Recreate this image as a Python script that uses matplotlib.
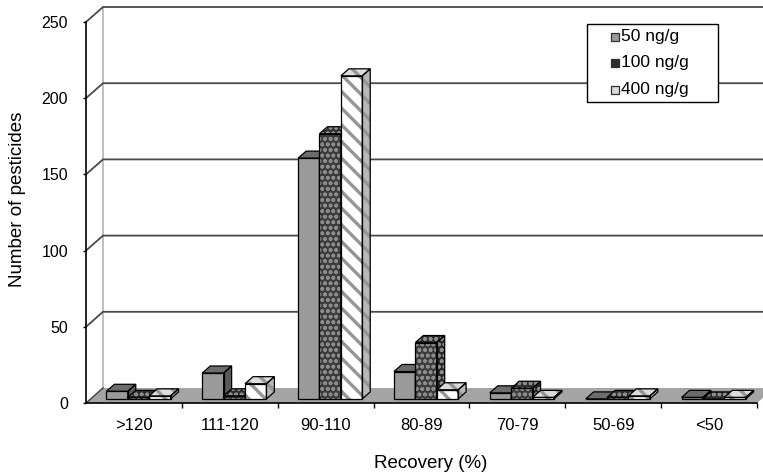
import matplotlib
matplotlib.use("Agg")
import matplotlib.pyplot as plt
from matplotlib.patches import Polygon, Rectangle

plt.rcParams["font.family"] = ["Liberation Sans", "DejaVu Sans"]
plt.rcParams["hatch.linewidth"] = 2.2

# ---- data -------------------------------------------------------------
categories = [">120", "111-120", "90-110", "80-89", "70-79", "50-69", "<50"]
series_labels = ["50 ng/g", "100 ng/g", "400 ng/g"]
counts_50 = [5, 17, 158, 18, 4, 0, 1]
counts_100 = [1, 2, 174, 37, 7, 1, 0]
counts_400 = [2, 10, 212, 6, 1, 2, 1]
y_ticks = [0, 50, 100, 150, 200, 250]

series = [counts_50, counts_100, counts_400]

# ---- figure / axes ----------------------------------------------------
W, H = 763, 472
fig = plt.figure(figsize=(W / 100, H / 100), dpi=100)
fig.patch.set_facecolor("white")
ax = fig.add_axes([86 / W, 69 / H, 671 / W, 381 / H])
ncat = len(categories)
ymax = y_ticks[-1]
ax.set_xlim(0, ncat)
ax.set_ylim(0, ymax)
ax.set_facecolor("none")

# oblique depth vector (data units) for the pseudo-3D box
px_x = 671 / ncat          # pixels per category
px_y = 381 / ymax          # pixels per count
DX = 17 / px_x
DY = 15 / px_y

# back wall, left edge and top edge
ax.add_patch(Polygon([(DX, DY), (DX, ymax + DY), (ncat + DX, ymax + DY), (ncat + DX, DY)],
                     closed=True, fc="white", ec="none", zorder=0, clip_on=False))
ax.plot([DX, DX], [DY, ymax + DY], color="#b4b4b4", lw=1.2, zorder=1, clip_on=False)

# gridlines on the back wall plus their diagonals on the left side wall
for t in y_ticks[1:]:
    ax.plot([0, DX, ncat + DX], [t, t + DY, t + DY], color="#4a4a4a", lw=1.3,
            zorder=1, clip_on=False, solid_joinstyle="miter")

# floor
ax.add_patch(Polygon([(0, 0), (ncat, 0), (ncat + DX, DY), (DX, DY)], closed=True,
                     fc="#a4a4a4", ec="none", zorder=1.5, clip_on=False))
ax.plot([0, DX], [0, DY], color="#404040", lw=1.0, zorder=1.6, clip_on=False)

# ---- bars -------------------------------------------------------------
styles = [
    dict(front="#9a9a9a", top="#6c6c6c", side="#5a5a5a", hatch=None, hcolor="#9a9a9a", hlw=1.0),
    dict(front="#3c3c3c", top="#2e2e2e", side="#262626", hatch="ooo", hcolor="#8c8c8c", hlw=1.1),
    dict(front="#ffffff", top="#dcdcdc", side="#b8b8b8", hatch="\\\\", hcolor="#959595", hlw=2.4),
]
z0, z1 = 0.27, 0.74
bw = 0.223
gap = 0.165
ddx = (z1 - z0) * DX
ddy = (z1 - z0) * DY
base = z0 * DY


def set_hlw(artists, lw):
    for a in artists:
        if hasattr(a, "set_hatch_linewidth"):
            a.set_hatch_linewidth(lw)


for j, (vals, st) in enumerate(zip(series, styles)):
    zo = 3 + j
    lefts = [i + gap + j * bw + z0 * DX for i in range(ncat)]
    with plt.rc_context({"hatch.linewidth": st["hlw"]}):
        # front faces
        fronts = ax.bar(lefts, vals, width=bw, bottom=base, align="edge", color=st["front"],
                        hatch=st["hatch"], edgecolor=st["hcolor"], linewidth=0, zorder=zo)
        set_hlw(fronts, st["hlw"])
        ax.bar(lefts, vals, width=bw, bottom=base, align="edge", fill=False,
               edgecolor="black", linewidth=0.9, zorder=zo + 0.3)
        for xl, v in zip(lefts, vals):
            xr = xl + bw
            top = base + v
            side = [(xr, base), (xr, top), (xr + ddx, top + ddy), (xr + ddx, base + ddy)]
            lid = [(xl, top), (xr, top), (xr + ddx, top + ddy), (xl + ddx, top + ddy)]
            for poly, fc in ((side, st["side"]), (lid, st["top"])):
                p = Polygon(poly, closed=True, fc=fc, hatch=st["hatch"],
                            ec=st["hcolor"], lw=0, zorder=zo + 0.1)
                set_hlw([p], st["hlw"])
                ax.add_patch(p)
                ax.add_patch(Polygon(poly, closed=True, fill=False, ec="black",
                                     lw=0.9, zorder=zo + 0.2, joinstyle="miter"))

# ---- axes decoration --------------------------------------------------
for s in ("top", "right"):
    ax.spines[s].set_visible(False)
ax.spines["left"].set_color("black")
ax.spines["left"].set_linewidth(1.2)
ax.spines["bottom"].set_color("black")
ax.spines["bottom"].set_linewidth(1.2)
ax.spines["left"].set_zorder(10)
ax.spines["bottom"].set_zorder(10)

ax.set_yticks(y_ticks)
ax.set_yticklabels([str(t) for t in y_ticks])
ax.tick_params(axis="y", direction="out", length=2.5, width=1.0, pad=10.5,
               labelsize=11.5, colors="black")

ax.set_xticks([i + 0.5 for i in range(ncat)])
ax.set_xticklabels(categories)
ax.set_xticks(list(range(1, ncat + 1)), minor=True)
ax.tick_params(axis="x", which="major", length=0, pad=11, labelsize=12)
ax.tick_params(axis="x", which="minor", direction="out", length=3.5, width=1.0)

fig.text(18 / W, 1 - 199 / H, "Number of pesticides", rotation=90,
         ha="center", va="center", fontsize=13.5)
fig.text(431 / W, 1 - 463 / H, "Recovery (%)", ha="center", va="center", fontsize=13.5)

# ---- legend -----------------------------------------------------------
def fpx(x, y):
    return (x / W, 1 - y / H)

box_l, box_t, box_r, box_b = 587, 24, 718, 102
fig.add_artist(Rectangle(fpx(box_l, box_b), (box_r - box_l) / W, (box_b - box_t) / H,
                         transform=fig.transFigure, fc="white", ec="black", lw=1.0,
                         zorder=20))
rows_y = [37, 63, 90]
for label, st, ry in zip(series_labels, styles, rows_y):
    fig.add_artist(Rectangle(fpx(611, ry + 4), 8 / W, 8 / H, transform=fig.transFigure,
                             fc=st["front"] if st["hatch"] is None else st["top"],
                             ec="#303030", lw=0.9, zorder=21))
    fig.text(621 / W, 1 - ry / H, label, ha="left", va="center", fontsize=12.5,
             zorder=22)

fig.savefig("out.png", dpi=100)
